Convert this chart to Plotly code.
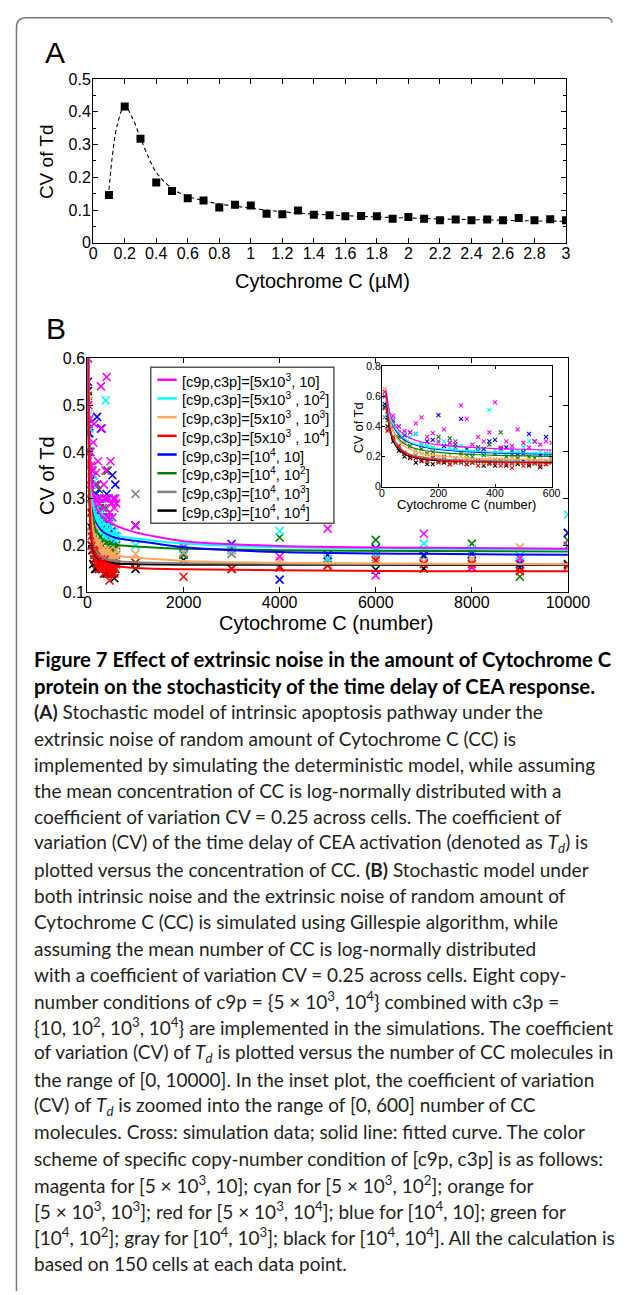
import plotly.graph_objects as go

W, H = 635, 1295

# ---------------- Panel A data ----------------
CC_CONC = [0.1, 0.2, 0.3, 0.4, 0.5, 0.6, 0.7, 0.8, 0.9, 1.0,
           1.1, 1.2, 1.3, 1.4, 1.5, 1.6, 1.7, 1.8, 1.9, 2.0,
           2.1, 2.2, 2.3, 2.4, 2.5, 2.6, 2.7, 2.8, 2.9, 3.0]
CV_A = [0.146, 0.416, 0.318, 0.184, 0.158, 0.136, 0.129, 0.108, 0.116, 0.114,
        0.089, 0.087, 0.099, 0.086, 0.084, 0.081, 0.082, 0.081, 0.074, 0.079,
        0.074, 0.069, 0.071, 0.069, 0.071, 0.069, 0.076, 0.069, 0.072, 0.069]
FIT_A_X = [0.1, 0.15, 0.2, 0.25, 0.3, 0.35, 0.4, 0.5, 0.6, 0.7, 0.8, 0.9, 1.0,
           1.1, 1.2, 1.4, 1.6, 1.8, 2.0, 2.2, 2.4, 2.6, 2.8, 3.0]
FIT_A_Y = [0.162, 0.355, 0.418, 0.38, 0.32, 0.262, 0.215, 0.166, 0.142, 0.129, 0.119, 0.112, 0.106,
           0.100, 0.095, 0.088, 0.083, 0.079, 0.076, 0.073, 0.071, 0.069, 0.067, 0.066]

# ---------------- Panel B data ----------------
CC_NUMBER = [10, 20, 40, 60, 80, 100, 120, 140, 160, 180, 200, 220, 240, 260, 280, 300,
             320, 340, 360, 380, 400, 420, 440, 460, 480, 500, 520, 540, 560, 580, 600,
             1000, 2000, 3000, 4000, 5000, 6000, 7000, 8000, 9000, 10000]

CV_MAGENTA = [0.60, 0.50, 0.47, 0.40, 0.37, 0.36, 0.42, 0.46, 0.33, 0.355, 0.30, 0.38, 0.29, 0.30, 0.54, 0.45,
              0.28, 0.33, 0.30, 0.36, 0.56, 0.26, 0.30, 0.27, 0.38, 0.29, 0.26, 0.30, 0.28, 0.30, 0.29,
              0.243, 0.197, 0.195, 0.176, 0.236, 0.136, 0.225, 0.153, 0.173, 0.199]
CV_CYAN = [0.60, 0.48, 0.45, 0.40, 0.36, 0.33, 0.35, 0.28, 0.27, 0.26, 0.29, 0.30, 0.26, 0.25, 0.27, 0.24,
           0.23, 0.25, 0.22, 0.51, 0.24, 0.23, 0.22, 0.25, 0.24, 0.26, 0.30, 0.22, 0.23, 0.21, 0.22,
           0.200, 0.193, 0.192, 0.231, 0.171, 0.185, 0.204, 0.192, 0.178, 0.266]
CV_ORANGE = [0.65, 0.51, 0.45, 0.36, 0.30, 0.26, 0.24, 0.22, 0.21, 0.24, 0.20, 0.19, 0.21, 0.18, 0.20, 0.19,
             0.17, 0.18, 0.16, 0.19, 0.17, 0.18, 0.16, 0.19, 0.17, 0.29, 0.18, 0.17, 0.18, 0.16, 0.19,
             0.182, 0.185, 0.190, 0.168, 0.158, 0.165, 0.165, 0.172, 0.196, 0.153]
CV_RED = [0.63, 0.37, 0.33, 0.27, 0.22, 0.20, 0.19, 0.18, 0.17, 0.19, 0.16, 0.17, 0.15, 0.16, 0.17, 0.15,
          0.16, 0.14, 0.17, 0.15, 0.16, 0.14, 0.15, 0.125, 0.16, 0.14, 0.15, 0.16, 0.14, 0.15, 0.16,
          0.163, 0.133, 0.150, 0.153, 0.157, 0.168, 0.160, 0.160, 0.145, 0.157]
CV_BLUE = [0.55, 0.46, 0.44, 0.40, 0.34, 0.36, 0.35, 0.28, 0.30, 0.31, 0.475, 0.27, 0.29, 0.26, 0.45, 0.25,
           0.23, 0.24, 0.25, 0.30, 0.31, 0.25, 0.26, 0.24, 0.22, 0.23, 0.35, 0.30, 0.21, 0.33, 0.22,
           0.243, 0.185, 0.203, 0.127, 0.180, 0.194, 0.177, 0.182, 0.160, 0.227]
CV_GREEN = [0.52, 0.44, 0.40, 0.33, 0.30, 0.27, 0.24, 0.25, 0.22, 0.23, 0.33, 0.20, 0.32, 0.28, 0.22, 0.21,
            0.20, 0.26, 0.21, 0.28, 0.22, 0.36, 0.20, 0.21, 0.19, 0.22, 0.20, 0.19, 0.21, 0.22, 0.20,
            0.163, 0.180, 0.190, 0.217, 0.171, 0.212, 0.180, 0.204, 0.133, 0.211]
CV_GRAY = [0.46, 0.38, 0.32, 0.27, 0.23, 0.20, 0.21, 0.19, 0.18, 0.20, 0.17, 0.18, 0.17, 0.19, 0.16, 0.18,
           0.17, 0.26, 0.16, 0.17, 0.18, 0.16, 0.17, 0.15, 0.18, 0.16, 0.17, 0.15, 0.16, 0.17, 0.18,
           0.310, 0.183, 0.182, 0.153, 0.165, 0.175, 0.190, 0.165, 0.165, 0.227]
CV_BLACK = [0.53, 0.40, 0.30, 0.24, 0.20, 0.19, 0.16, 0.17, 0.15, 0.15, 0.17, 0.16, 0.15, 0.17, 0.16, 0.15,
            0.16, 0.17, 0.14, 0.16, 0.14, 0.17, 0.14, 0.16, 0.15, 0.17, 0.14, 0.16, 0.13, 0.15, 0.17,
            0.150, 0.169, 0.150, 0.155, 0.158, 0.148, 0.151, 0.153, 0.153, 0.160]

FIT_X = [15, 20, 30, 40, 60, 80, 100, 150, 200, 300, 400, 600, 1000, 2000, 4000, 7000, 10000]
FIT_MAGENTA = [0.64, 0.57, 0.48, 0.43, 0.375, 0.345, 0.322, 0.293, 0.277, 0.262, 0.253, 0.242, 0.228, 0.209, 0.199, 0.195, 0.193]
FIT_CYAN = [0.63, 0.55, 0.46, 0.41, 0.355, 0.32, 0.297, 0.268, 0.252, 0.237, 0.229, 0.221, 0.215, 0.204, 0.196, 0.193, 0.191]
FIT_ORANGE = [0.65, 0.55, 0.44, 0.37, 0.305, 0.268, 0.247, 0.218, 0.204, 0.19, 0.184, 0.178, 0.174, 0.167, 0.163, 0.161, 0.160]
FIT_RED = [0.62, 0.50, 0.38, 0.32, 0.26, 0.228, 0.208, 0.186, 0.176, 0.167, 0.162, 0.156, 0.152, 0.149, 0.147, 0.145, 0.145]
FIT_BLUE = [0.62, 0.54, 0.45, 0.40, 0.345, 0.31, 0.29, 0.262, 0.247, 0.232, 0.224, 0.216, 0.210, 0.196, 0.186, 0.182, 0.180]
FIT_GREEN = [0.60, 0.52, 0.43, 0.37, 0.315, 0.285, 0.265, 0.24, 0.228, 0.215, 0.208, 0.201, 0.198, 0.193, 0.190, 0.188, 0.187]
FIT_GRAY = [0.58, 0.49, 0.38, 0.32, 0.265, 0.233, 0.214, 0.194, 0.185, 0.176, 0.171, 0.167, 0.164, 0.162, 0.161, 0.160, 0.160]
FIT_BLACK = [0.56, 0.47, 0.36, 0.30, 0.245, 0.217, 0.200, 0.181, 0.173, 0.167, 0.164, 0.161, 0.160, 0.159, 0.159, 0.158, 0.158]

SERIES_NAMES = [
    "[c9p,c3p]=[5x10<sup>3</sup>, 10]",
    "[c9p,c3p]=[5x10<sup>3</sup> , 10<sup>2</sup>]",
    "[c9p,c3p]=[5x10<sup>3</sup> , 10<sup>3</sup>]",
    "[c9p,c3p]=[5x10<sup>3</sup> , 10<sup>4</sup>]",
    "[c9p,c3p]=[10<sup>4</sup>, 10]",
    "[c9p,c3p]=[10<sup>4</sup>, 10<sup>2</sup>]",
    "[c9p,c3p]=[10<sup>4</sup>, 10<sup>3</sup>]",
    "[c9p,c3p]=[10<sup>4</sup>, 10<sup>4</sup>]",
]
SERIES_COLORS = ["#FF00FF", "#00FFFF", "#FFA75C", "#FF0000", "#0000FF", "#008000", "#808080", "#000000"]
SERIES_CV = [CV_MAGENTA, CV_CYAN, CV_ORANGE, CV_RED, CV_BLUE, CV_GREEN, CV_GRAY, CV_BLACK]
SERIES_FIT = [FIT_MAGENTA, FIT_CYAN, FIT_ORANGE, FIT_RED, FIT_BLUE, FIT_GREEN, FIT_GRAY, FIT_BLACK]
MARKER_ORDER = [7, 6, 5, 4, 2, 1, 0, 3]

CAPTION = [
    "<b>Figure 7 Effect of extrinsic noise in the amount of Cytochrome C</b>",
    "<b>protein on the stochasticity of the time delay of CEA response.</b>",
    "<b>(A)</b> Stochastic model of intrinsic apoptosis pathway under the",
    "extrinsic noise of random amount of Cytochrome C (CC) is",
    "implemented by simulating the deterministic model, while assuming",
    "the mean concentration of CC is log-normally distributed with a",
    "coefficient of variation CV = 0.25 across cells. The coefficient of",
    "variation (CV) of the time delay of CEA activation (denoted as <i>T<sub>d</sub></i>) is",
    "plotted versus the concentration of CC. <b>(B)</b> Stochastic model under",
    "both intrinsic noise and the extrinsic noise of random amount of",
    "Cytochrome C (CC) is simulated using Gillespie algorithm, while",
    "assuming the mean number of CC is log-normally distributed",
    "with a coefficient of variation CV = 0.25 across cells. Eight copy-",
    "number conditions of c9p = {5 × 10<sup>3</sup>, 10<sup>4</sup>} combined with c3p =",
    "{10, 10<sup>2</sup>, 10<sup>3</sup>, 10<sup>4</sup>} are implemented in the simulations. The coefficient",
    "of variation (CV) of <i>T<sub>d</sub></i> is plotted versus the number of CC molecules in",
    "the range of [0, 10000]. In the inset plot, the coefficient of variation",
    "(CV) of <i>T<sub>d</sub></i> is zoomed into the range of [0, 600] number of CC",
    "molecules. Cross: simulation data; solid line: fitted curve. The color",
    "scheme of specific copy-number condition of [c9p, c3p] is as follows:",
    "magenta for [5 × 10<sup>3</sup>, 10]; cyan for [5 × 10<sup>3</sup>, 10<sup>2</sup>]; orange for",
    "[5 × 10<sup>3</sup>, 10<sup>3</sup>]; red for [5 × 10<sup>3</sup>, 10<sup>4</sup>]; blue for [10<sup>4</sup>, 10]; green for",
    "[10<sup>4</sup>, 10<sup>2</sup>]; gray for [10<sup>4</sup>, 10<sup>3</sup>]; black for [10<sup>4</sup>, 10<sup>4</sup>]. All the calculation is",
    "based on 150 cells at each data point.",
]


def px_x(x):
    return x / W


def px_y(y):
    return 1 - y / H


PLOT_FONT = "Liberation Sans, Arial, sans-serif"
CAP_FONT = "Lato, Roboto, sans-serif"

fig = go.Figure()

# Panel A
fig.add_trace(go.Scatter(x=FIT_A_X, y=FIT_A_Y, mode="lines", xaxis="x", yaxis="y",
                         line=dict(color="black", width=1.1, dash="4px,3px", shape="spline", smoothing=0.9),
                         showlegend=False, hoverinfo="skip"))
fig.add_trace(go.Scatter(x=CC_CONC, y=CV_A, mode="markers", xaxis="x", yaxis="y",
                         marker=dict(symbol="square", size=8, color="black"), showlegend=False))

# Panel B markers (main + inset)
for i in MARKER_ORDER:
    c = SERIES_COLORS[i]
    fig.add_trace(go.Scatter(x=CC_NUMBER, y=SERIES_CV[i], mode="markers", xaxis="x2", yaxis="y2",
                             marker=dict(symbol="x-thin", size=8, line=dict(width=1.6, color=c), color=c),
                             name=SERIES_NAMES[i], showlegend=False, cliponaxis=True))
for i in MARKER_ORDER:
    c = SERIES_COLORS[i]
    fig.add_trace(go.Scatter(x=CC_NUMBER, y=SERIES_CV[i], mode="markers", xaxis="x3", yaxis="y3",
                             marker=dict(symbol="x-thin", size=4, line=dict(width=1.1, color=c), color=c),
                             name=SERIES_NAMES[i], showlegend=False, cliponaxis=True))
# fitted curves
for i in MARKER_ORDER:
    c = SERIES_COLORS[i]
    fig.add_trace(go.Scatter(x=FIT_X, y=SERIES_FIT[i], mode="lines", xaxis="x2", yaxis="y2",
                             line=dict(color=c, width=2, shape="spline", smoothing=0.6),
                             name=SERIES_NAMES[i], showlegend=False))
for i in MARKER_ORDER:
    c = SERIES_COLORS[i]
    fig.add_trace(go.Scatter(x=FIT_X, y=SERIES_FIT[i], mode="lines", xaxis="x3", yaxis="y3",
                             line=dict(color=c, width=1.2, shape="spline", smoothing=0.6),
                             name=SERIES_NAMES[i], showlegend=False))

axis_common = dict(showline=True, linecolor="black", linewidth=1.3, mirror="ticks", ticks="inside",
                   ticklen=5, tickcolor="black", showgrid=False, zeroline=False,
                   tickfont=dict(family=PLOT_FONT, size=16, color="black"))

fig.update_layout(
    width=W, height=H, margin=dict(l=0, r=0, t=0, b=0),
    paper_bgcolor="white", plot_bgcolor="white", showlegend=False,
    xaxis=dict(axis_common, domain=[px_x(93), px_x(586)], range=[0, 3], dtick=0.2, anchor="y",
               ticklabelstandoff=-4),
    yaxis=dict(axis_common, domain=[px_y(238), px_y(72)], range=[0, 0.5], dtick=0.1, anchor="x",
               ticklabelstandoff=-2,
               minor=dict(dtick=0.05, ticks="inside", ticklen=3, tickcolor="black")),
    xaxis2=dict(axis_common, domain=[px_x(87), px_x(588)], range=[0, 10000], dtick=2000, anchor="y2",
                tickformat="d", ticklabelstandoff=-5),
    yaxis2=dict(axis_common, domain=[px_y(592), px_y(355)], range=[0.1, 0.6], dtick=0.1, anchor="x2",
                ticklabelstandoff=-2),
    xaxis3=dict(axis_common, domain=[px_x(394), px_x(571)], range=[0, 600], dtick=200, anchor="y3",
                ticklen=3, linewidth=1, ticklabelstandoff=-3,
                tickfont=dict(family=PLOT_FONT, size=10.5, color="black")),
    yaxis3=dict(axis_common, domain=[px_y(485), px_y(363)], range=[0, 0.8], dtick=0.2, anchor="x3",
                ticklen=3, linewidth=1, ticklabelstandoff=-2,
                tickfont=dict(family=PLOT_FONT, size=10.5, color="black")),
)

ann = []
# panel letters
ann.append(dict(text="A", x=px_x(53), y=px_y(45), font=dict(family=PLOT_FONT, size=30, color="black")))
ann.append(dict(text="B", x=px_x(54), y=px_y(325), font=dict(family=PLOT_FONT, size=30, color="black")))
# axis titles
ann.append(dict(text="Cytochrome C (µM)", x=px_x(332), y=px_y(277), font=dict(family=PLOT_FONT, size=20, color="black")))
ann.append(dict(text="CV of Td", x=px_x(45), y=px_y(156), textangle=-90, font=dict(family=PLOT_FONT, size=19, color="black")))
ann.append(dict(text="Cytochrome C (number)", x=px_x(336), y=px_y(623), font=dict(family=PLOT_FONT, size=20, color="black")))
ann.append(dict(text="CV of Td", x=px_x(45), y=px_y(474), textangle=-90, font=dict(family=PLOT_FONT, size=20, color="black")))
ann.append(dict(text="Cytochrome C (number)", x=px_x(482), y=px_y(503), font=dict(family=PLOT_FONT, size=13, color="black")))
ann.append(dict(text="CV of Td", x=px_x(370), y=px_y(425), textangle=-90, font=dict(family=PLOT_FONT, size=13, color="black")))
for a in ann:
    a.update(xref="paper", yref="paper", showarrow=False, xanchor="center", yanchor="middle")

# legend box for panel B (entries: coloured line sample + label)
LEG_L, LEG_T, LEG_R, LEG_B = 153, 364, 344, 522
fig.add_shape(type="rect", xref="paper", yref="paper",
              x0=px_x(LEG_L), x1=px_x(LEG_R), y0=px_y(LEG_B), y1=px_y(LEG_T),
              fillcolor="white", line=dict(color="#555555", width=1.5), layer="above")
for k in range(len(SERIES_NAMES)):
    yk = 376.7 + k * 18.94
    fig.add_shape(type="line", xref="paper", yref="paper",
                  x0=px_x(160), x1=px_x(180), y0=px_y(yk), y1=px_y(yk),
                  line=dict(color=SERIES_COLORS[k], width=2.5), layer="above")
    ann.append(dict(text=SERIES_NAMES[k], x=px_x(183), y=px_y(yk + 1), xref="paper", yref="paper",
                    showarrow=False, xanchor="left", yanchor="middle",
                    font=dict(family=PLOT_FONT, size=14.6, color="black")))

# caption lines
y0, dy = 660, 26.6
for k, line in enumerate(CAPTION):
    ann.append(dict(text=line, x=px_x(29), y=px_y(y0 + k * dy), xref="paper", yref="paper",
                    showarrow=False, xanchor="left", yanchor="middle",
                    font=dict(family=CAP_FONT, size=20.3 if k < 2 else 19,
                              color="#000000" if k < 2 else "#231F20")))
fig.update_layout(annotations=ann)

# frame (left and top border with rounded corners)
r = 10
path = (f"M {px_x(13)},{px_y(1300)} L {px_x(13)},{px_y(10 + r)} "
        f"Q {px_x(13)},{px_y(10)} {px_x(13 + r)},{px_y(10)} "
        f"L {px_x(627)},{px_y(10)} Q {px_x(634)},{px_y(10)} {px_x(634)},{px_y(15)}")
fig.add_shape(type="path", path=path, xref="paper", yref="paper", line=dict(color="#777777", width=1.5))

fig.write_html("out.html")
